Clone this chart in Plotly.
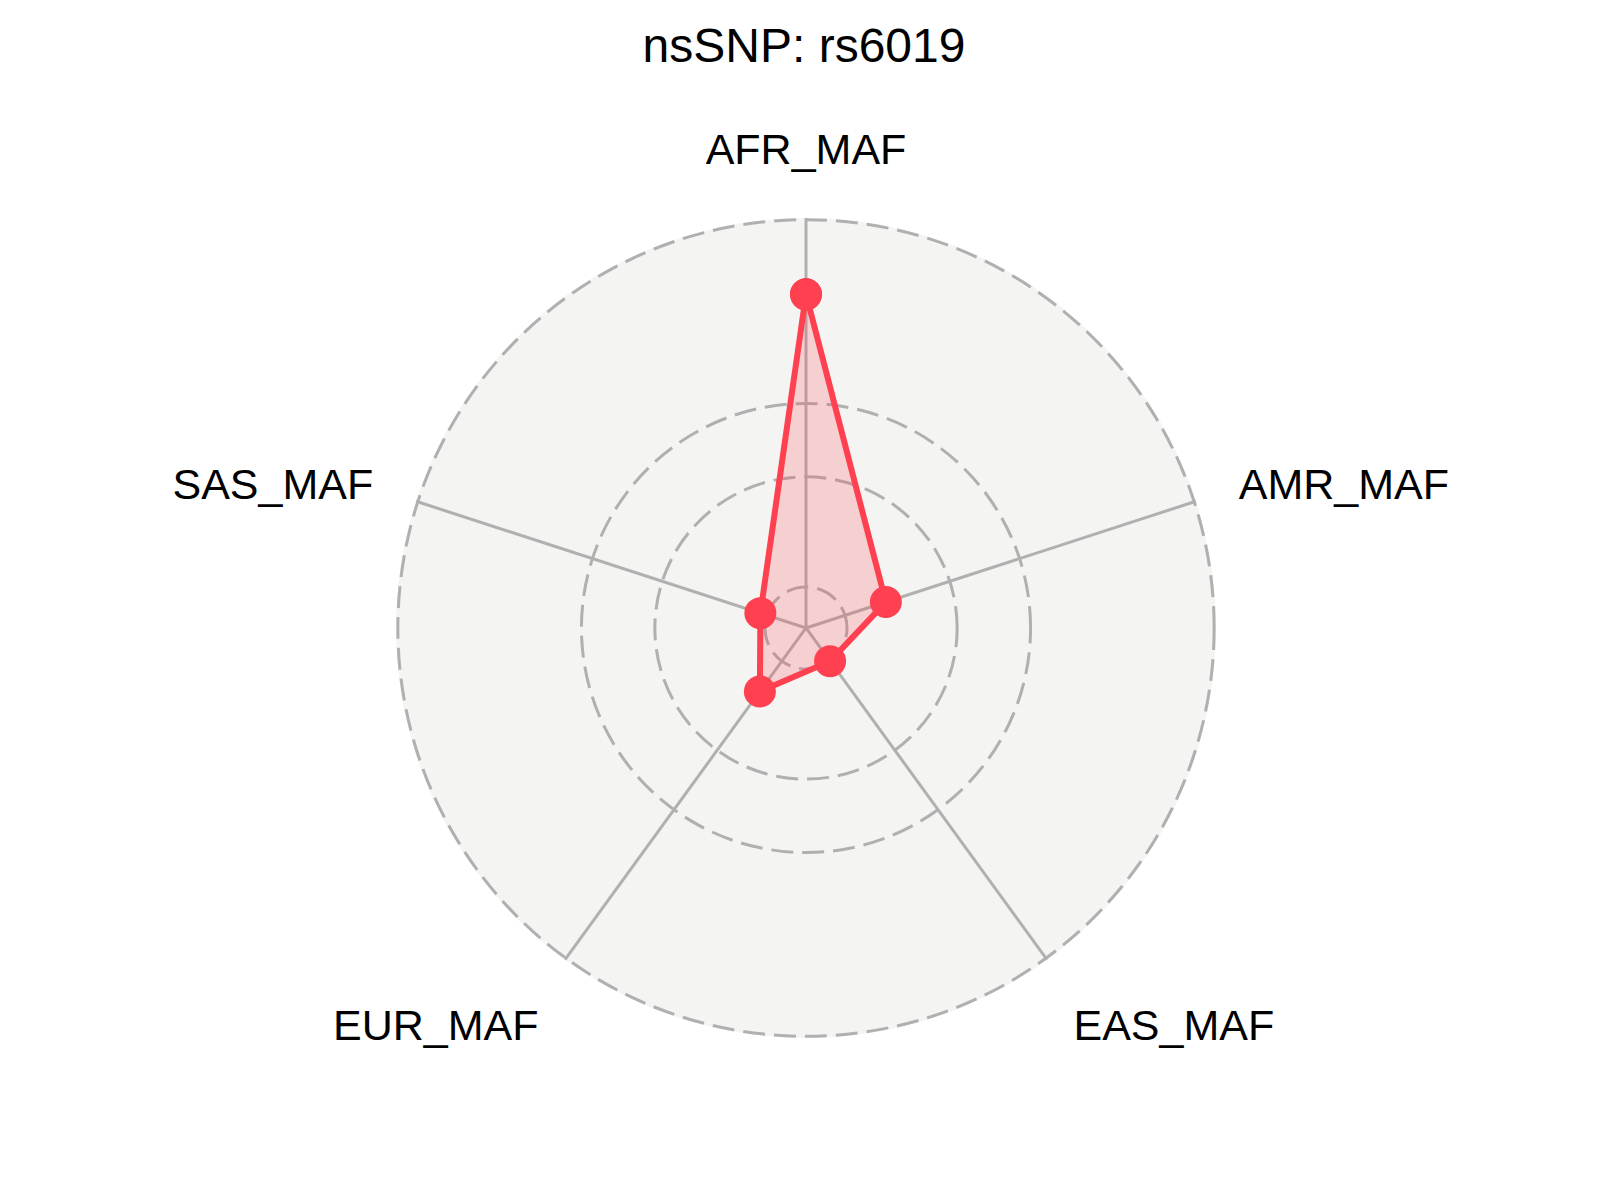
import plotly.graph_objects as go

# minor allele frequency per population
categories = ["AFR_MAF", "AMR_MAF", "EAS_MAF", "EUR_MAF", "SAS_MAF"]
maf = [0.797, 0.117, 0.0, 0.102, 0.019]
radial_ticks = [0, 0.3, 0.5, 1.0]

snp_id = "rs6019"
line_color = "#ff4050"
grid_color = "#b0b0b0"

# leave a small empty ring in the middle (0 sits at 10% of the radius)
r_max = 1.005
r_min = -r_max / 9

fig = go.Figure()
fig.add_trace(go.Scatterpolar(
    r=maf + [maf[0]],
    theta=categories + [categories[0]],
    mode="lines+markers",
    fill="toself",
    fillcolor="rgba(255,64,80,0.2)",
    line=dict(color=line_color, width=6),
    marker=dict(color=line_color, size=32),
    showlegend=False,
))

fig.update_layout(
    width=1600,
    height=1200,
    margin=dict(l=0, r=0, t=0, b=0),
    paper_bgcolor="white",
    font=dict(family="Liberation Sans, Arial, sans-serif", color="black"),
    title=dict(
        text=f"nsSNP: {snp_id}",
        x=0.4975, xanchor="center",
        y=1 - 37 / 1200, yanchor="middle",
        font=dict(size=48, color="black"),
    ),
    polar=dict(
        domain=dict(x=[0.2425, 0.755], y=[0.1417, 0.825]),
        bgcolor="#f4f4f2",
        radialaxis=dict(
            range=[r_min, r_max],
            tickvals=radial_ticks,
            showticklabels=False,
            ticks="",
            showline=False,
            gridcolor=grid_color,
            gridwidth=2.7,
            griddash="22px,9px",
        ),
        angularaxis=dict(
            rotation=90,
            direction="clockwise",
            categoryorder="array",
            categoryarray=categories,
            showline=False,
            gridcolor=grid_color,
            gridwidth=2.5,
            ticks="outside",
            ticklen=36,
            tickcolor="rgba(0,0,0,0)",
            tickfont=dict(size=43, color="black"),
        ),
    ),
)

fig.write_html("out.html")
